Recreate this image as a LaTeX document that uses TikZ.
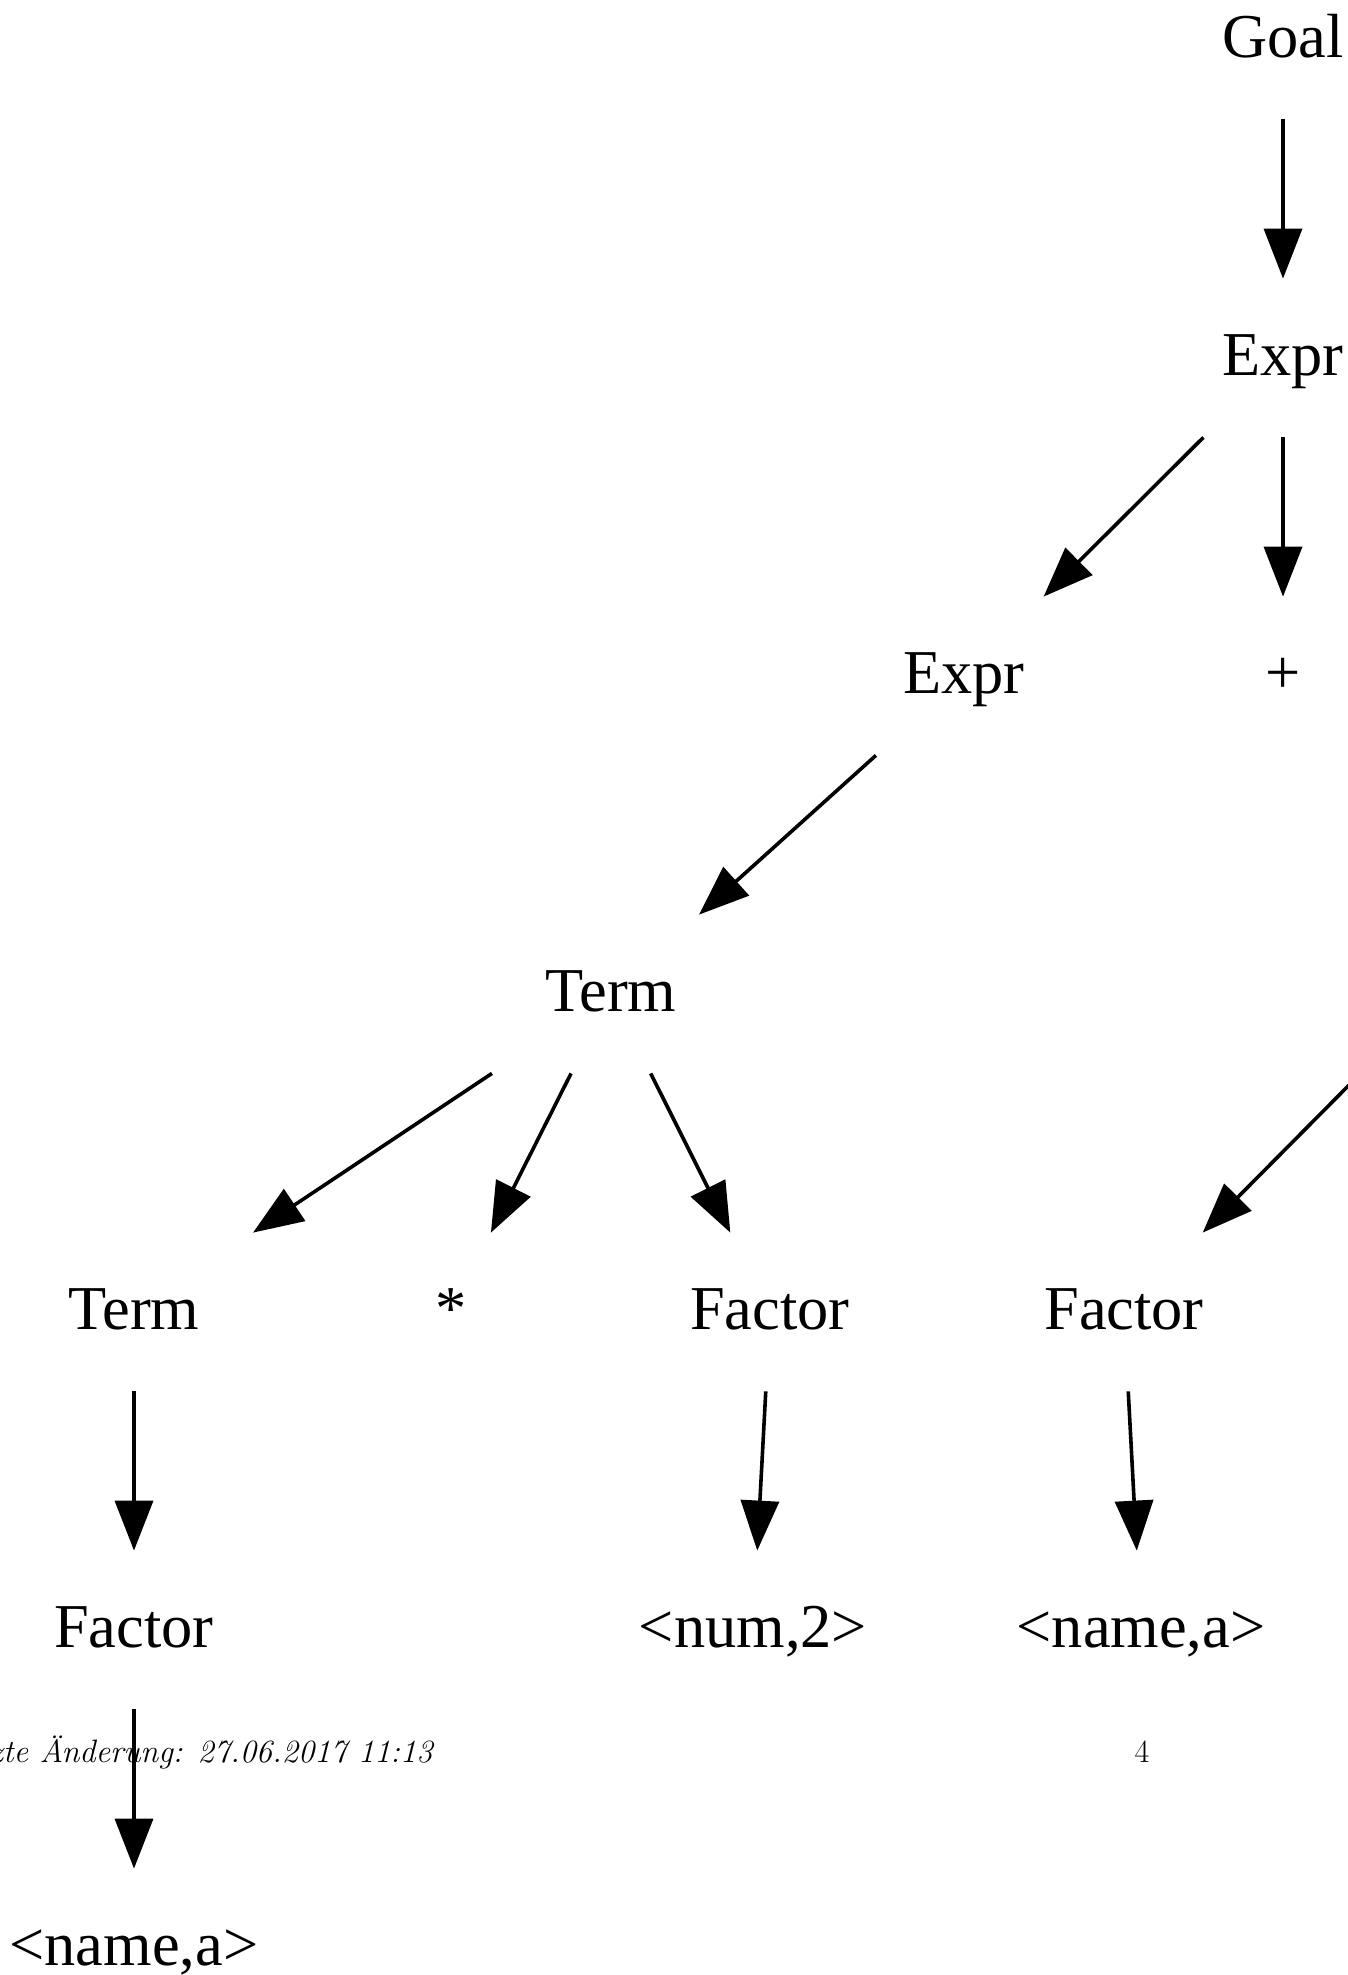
\documentclass[tikz,border=0pt]{standalone}
\usepackage{fontspec}
\newfontfamily\tnrfont{Liberation Serif}
\usetikzlibrary{arrows.meta}
\begin{document}
\begin{tikzpicture}[x=0.5pt,y=-0.5pt,
  lab/.style={font=\tnrfont\fontsize{31.2pt}{37pt}\selectfont, inner sep=0pt,
    text height=21.5pt, text depth=4pt, minimum height=79pt, minimum width=150pt},
  conn/.style={line width=1.8pt, line join=miter,
    -{Triangle[length=25pt,width=19pt]}},
  foot/.style={inner sep=0pt, anchor=base}]
\useasboundingbox (0,0) rectangle (1348,1975);
\clip (0,0) rectangle (1348,1975);
% footer (drawn first, arrows go over it)
\node[foot, anchor=base east, font=\itshape\fontsize{16.2pt}{19pt}\selectfont] (footer) at (433,1762) {Letzte Änderung: 27.06.2017 11:13};
\node[foot, font=\fontsize{16.2pt}{19pt}\selectfont] (pagenum) at (1142,1762) {4};
% nodes
\node[lab] (goal)  at (1283,40)   {Goal};
\node[lab] (expra) at (1283,358)  {Expr};
\node[lab] (exprb) at (964,676)   {Expr};
\node[lab] (plus)  at (1283,676)  {+};
\node[lab] (terma) at (611,994)   {Term};
\node[lab] (termb) at (134,1312)  {Term};
\node[lab] (star)  at (451,1312)  {*};
\node[lab] (faca)  at (770,1312)  {Factor};
\node[lab] (facb)  at (1124,1312) {Factor};
\node[lab] (facc)  at (134,1630)  {Factor};
\node[lab] (numtwo) at (753,1630) {<num,2>};
\node[lab] (namea) at (1141,1630) {<name,a>};
\node[lab] (nameb) at (134,1948)  {<name,a>};
\coordinate (offright) at (1362,1072);
% connectors
\draw[conn] (goal) -- (expra);
\draw[conn] (expra) -- (exprb);
\draw[conn] (expra) -- (plus);
\draw[conn] (exprb) -- (terma);
\draw[conn] (terma) -- (termb);
\draw[conn] (terma) -- (star);
\draw[conn] (terma) -- (faca);
\draw[conn] (offright) -- (facb);
\draw[conn] (termb) -- (facc);
\draw[conn] (faca) -- (numtwo);
\draw[conn] (facb) -- (namea);
\draw[conn] (facc) -- (nameb);
\end{tikzpicture}
\end{document}
